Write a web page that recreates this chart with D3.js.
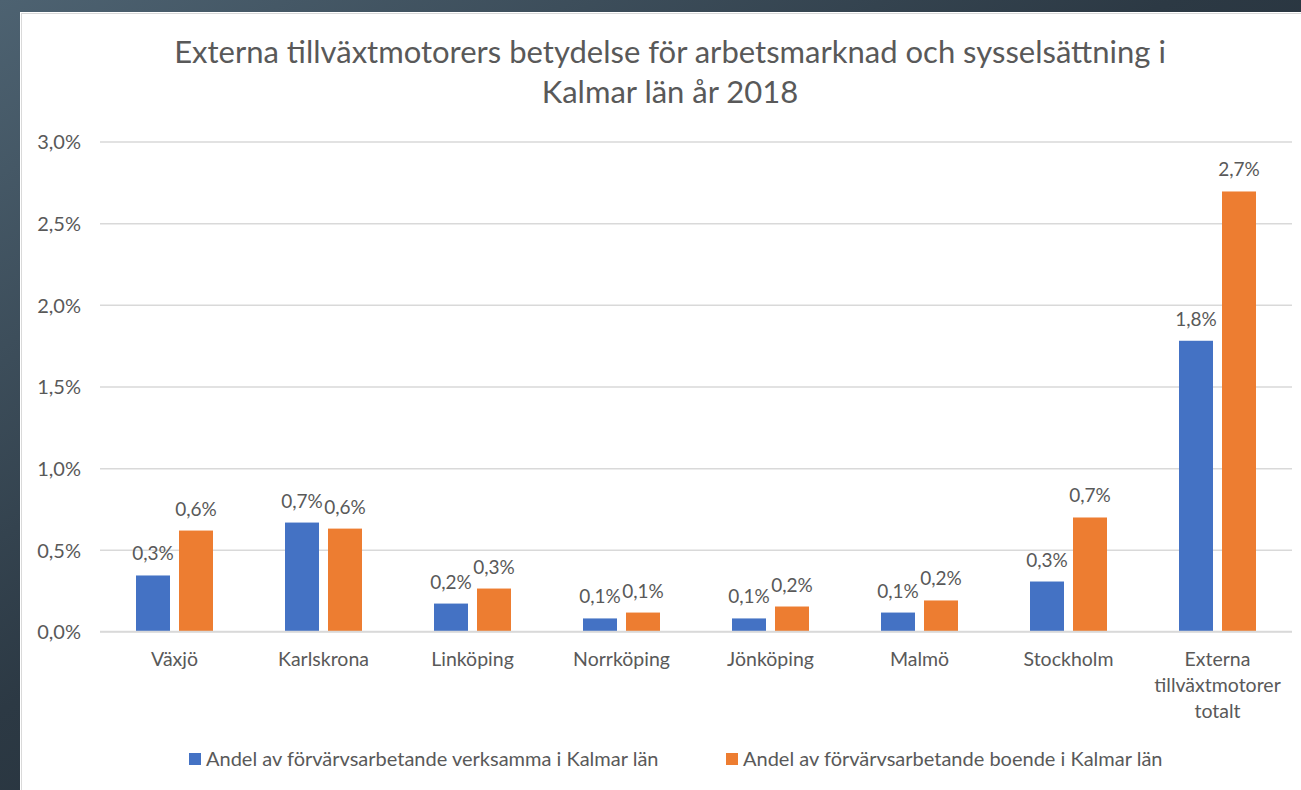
<!DOCTYPE html>
<html>
<head>
<meta charset="utf-8">
<script src="https://cdn.jsdelivr.net/npm/d3@7"></script>
<style>
  html, body { margin: 0; padding: 0; background: #2a3640; }
  svg { display: block; }
  text { font-family: Lato, "Open Sans", sans-serif; fill: #595959; }
</style>
</head>
<body>
<svg id="chart" width="1301" height="790"></svg>
<script>
const categories = ["Växjö", "Karlskrona", "Linköping", "Norrköping", "Jönköping", "Malmö", "Stockholm", "Externa tillväxtmotorer totalt"];
const categoryLines = [["Växjö"], ["Karlskrona"], ["Linköping"], ["Norrköping"], ["Jönköping"], ["Malmö"], ["Stockholm"], ["Externa", "tillväxtmotorer", "totalt"]];
const seriesNames = ["Andel av förvärvsarbetande verksamma i Kalmar län", "Andel av förvärvsarbetande boende i Kalmar län"];
const verksamma = [0.00343, 0.00667, 0.00171, 0.00080, 0.00080, 0.00116, 0.00306, 0.01780];
const boende    = [0.00618, 0.00630, 0.00263, 0.00116, 0.00153, 0.00190, 0.00698, 0.02694];
const yTicks = [0, 0.005, 0.01, 0.015, 0.02, 0.025, 0.03];
const titleLines = ["Externa tillväxtmotorers betydelse för arbetsmarknad och sysselsättning i", "Kalmar län år 2018"];
const colors = ["#4472C4", "#ED7D31"];

(function () {
const svg = d3.select("#chart");
const W = 1301, H = 790;

const defs = svg.append("defs");
const grad = defs.append("linearGradient").attr("id", "bg").attr("x1", "0").attr("y1", "0").attr("x2", "1").attr("y2", "1");
grad.append("stop").attr("offset", "0%").attr("stop-color", "#4d6271");
grad.append("stop").attr("offset", "45%").attr("stop-color", "#2c3944");
grad.append("stop").attr("offset", "100%").attr("stop-color", "#1b242c");
svg.append("rect").attr("width", W).attr("height", H).attr("fill", "url(#bg)");

svg.append("rect").attr("x", 20).attr("y", 12).attr("width", W - 20 + 5).attr("height", H - 12 + 5)
  .attr("fill", "#ffffff");
svg.append("rect").attr("x", 21.5).attr("y", 13.5).attr("width", W).attr("height", H)
  .attr("fill", "none").attr("stroke", "#d9d9d9").attr("stroke-width", 1);

const pLeft = 100, pRight = 1292, pTop = 141.5, pBottom = 631.5;

const y = d3.scaleLinear().domain([0, 0.03]).range([pBottom, pTop]);
const x0 = d3.scaleBand().domain(categories).range([pLeft, pRight]).paddingInner(0).paddingOuter(0);
const groupW = 77;
const x1 = d3.scaleBand().domain(seriesNames)
  .range([(x0.bandwidth() - groupW) / 2, (x0.bandwidth() + groupW) / 2])
  .paddingInner(0.2093).paddingOuter(0);

const fmt = v => (Math.round(v * 1000) / 10).toFixed(1).replace(".", ",") + "%";

const yAxis = d3.axisLeft(y).tickValues(yTicks).tickSize(-(pRight - pLeft)).tickPadding(19)
  .tickFormat(fmt);
const gy = svg.append("g").attr("transform", `translate(${pLeft},0)`).call(yAxis);
gy.select(".domain").remove();
gy.selectAll(".tick line").attr("stroke", "#d9d9d9").attr("stroke-width", 1.5);
gy.selectAll(".tick text").attr("fill", "#595959").style("font-size", "20px").style("font-family", "Lato, sans-serif").attr("dy", "0.36em");

const data = categories.map((c, i) => ({ cat: c, values: [verksamma[i], boende[i]] }));
const groups = svg.append("g").selectAll("g").data(data).join("g")
  .attr("transform", d => `translate(${x0(d.cat)},0)`);
groups.selectAll("rect").data(d => d.values.map((v, k) => ({ v, k, name: seriesNames[k] })))
  .join("rect")
  .attr("x", d => x1(d.name))
  .attr("width", x1.bandwidth())
  .attr("y", d => y(d.v))
  .attr("height", d => y(0) - y(d.v))
  .attr("fill", d => colors[d.k]);

groups.selectAll("text.lbl").data(d => d.values.map((v, k) => ({ v, k, name: seriesNames[k] })))
  .join("text").attr("class", "lbl")
  .attr("x", d => x1(d.name) + x1.bandwidth() / 2)
  .attr("y", d => y(d.v) - 15)
  .attr("text-anchor", "middle")
  .style("font-size", "19px")
  .text(d => fmt(d.v));

svg.append("line").attr("x1", pLeft).attr("x2", pRight).attr("y1", y(0)).attr("y2", y(0))
  .attr("stroke", "#d9d9d9").attr("stroke-width", 1.5);

const cl = svg.append("g").selectAll("text").data(categories).join("text")
  .attr("x", d => x0(d) + x0.bandwidth() / 2)
  .attr("y", 666)
  .attr("text-anchor", "middle")
  .style("font-size", "19.5px");
cl.each(function (d, i) {
  const t = d3.select(this);
  categoryLines[i].forEach((line, j) => {
    t.append("tspan").attr("x", x0(d) + x0.bandwidth() / 2).attr("dy", j === 0 ? 0 : 26).text(line);
  });
});

svg.append("g").selectAll("text").data(titleLines).join("text")
  .attr("x", 670).attr("y", (d, i) => 63 + i * 40)
  .attr("text-anchor", "middle")
  .style("font-size", "31px")
  .text(d => d);

const legendX = [189, 726];
const lg = svg.append("g").selectAll("g").data(seriesNames).join("g")
  .attr("transform", (d, i) => `translate(${legendX[i]},753)`);
lg.append("rect").attr("width", 12).attr("height", 12).attr("fill", (d, i) => colors[i]);
lg.append("text").attr("x", 17).attr("y", 13).style("font-size", "20px").text(d => d);
})();
</script>
</body>
</html>
